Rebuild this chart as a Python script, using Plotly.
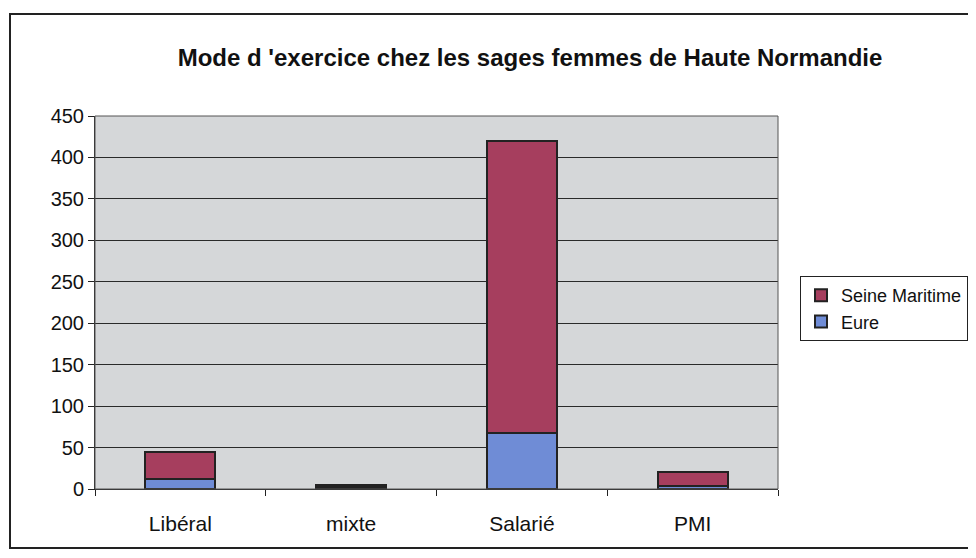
import plotly.graph_objects as go

categories = ["Libéral", "mixte", "Salarié", "PMI"]
eure = [12, 2, 67, 4]
seine_maritime = [33, 3, 353, 17]
y_ticks = [0, 50, 100, 150, 200, 250, 300, 350, 400, 450]

# page has an 8px body margin, so figure coords = page coords - 8
OFF = 8
W, H = 976 - OFF, 558 - OFF
L = 95 - OFF
T = 116 - OFF
R = W - (778 - OFF)
B = H - (489 - OFF)
pw, ph = W - L - R, H - T - B

def px_x(p):
    return (p - OFF - L) / pw

def px_y(p):
    return (H - B - (p - OFF)) / ph

fig = go.Figure()
fig.add_trace(go.Bar(
    x=categories, y=eure, name="Eure",
    marker=dict(color="#6f8cd6", line=dict(color="#222222", width=2)),
))
fig.add_trace(go.Bar(
    x=categories, y=seine_maritime, name="Seine Maritime",
    marker=dict(color="#a63e5e", line=dict(color="#222222", width=2)),
))

fig.update_layout(
    width=W, height=H,
    margin=dict(l=L, r=R, t=T, b=B, autoexpand=False),
    barmode="stack",
    bargap=0.59,
    paper_bgcolor="white",
    plot_bgcolor="#d5d7d9",
    font=dict(family="Liberation Sans, Arial, sans-serif", color="#111111"),
    title=dict(
        text="<b>Mode d 'exercice chez les sages femmes de Haute Normandie</b>",
        x=(530 - OFF) / W, xanchor="center", xref="container",
        y=1 - (58 - OFF) / H, yanchor="middle", yref="container",
        font=dict(size=24, color="#111111"),
    ),
    legend=dict(
        x=px_x(800), y=px_y(276), xanchor="left", yanchor="top",
        bordercolor="#222222", borderwidth=1, bgcolor="white",
        traceorder="reversed", font=dict(size=18),
        itemwidth=30,
    ),
    xaxis=dict(
        showline=True, linecolor="#222222", linewidth=1,
        ticks="outside", tickson="boundaries", ticklen=6, tickcolor="#222222",
        tickfont=dict(size=21), showgrid=False,
        ticklabelstandoff=16,
        mirror=False,
    ),
    yaxis=dict(
        range=[0, 450], tickvals=y_ticks,
        showline=True, linecolor="#222222", linewidth=1,
        ticks="outside", ticklen=6, tickcolor="#222222",
        tickfont=dict(size=20),
        showgrid=True, gridcolor="#2a2a2a", gridwidth=1,
        zeroline=False,
    ),
    shapes=[
        dict(type="rect", xref="paper", yref="paper",
             x0=px_x(10), x1=px_x(975), y0=px_y(548), y1=px_y(14),
             line=dict(color="#222222", width=2), fillcolor="rgba(0,0,0,0)",
             layer="below"),
        dict(type="rect", xref="paper", yref="paper",
             x0=0, x1=1, y0=0, y1=1,
             line=dict(color="#555555", width=1), fillcolor="rgba(0,0,0,0)"),
    ],
)

fig.write_html("out.html")
